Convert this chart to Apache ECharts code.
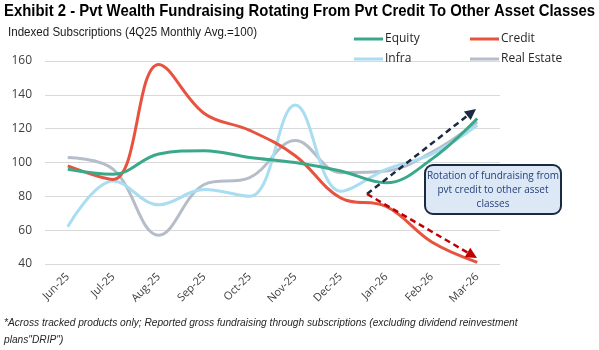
<!DOCTYPE html>
<html>
<head>
<meta charset="utf-8">
<script src="https://cdn.jsdelivr.net/npm/echarts@6/dist/echarts.min.js"></script>
<style>
  * { margin: 0; padding: 0; }
  html, body { background: #fff; }
  #main { width: 599px; height: 350px; }
</style>
</head>
<body>
<div id="main"></div>
<script>
// 月份
var months = ['Jun-25', 'Jul-25', 'Aug-25', 'Sep-25', 'Oct-25', 'Nov-25', 'Dec-25', 'Jan-26', 'Feb-26', 'Mar-26'];
// 各资产类别指数 (4Q25 月均 = 100)
var equity     = [96, 93, 105, 107, 103, 100, 95, 88, 102, 126];
var credit     = [98, 90, 158, 129, 119, 104, 79, 74, 53, 41];
var infra      = [62, 89, 75, 84, 80, 134, 83, 96, 105, 122];
var realEstate = [103, 96, 57, 87, 91, 113, 94, 95, 106, 124];
var yTicks = { min: 40, max: 160, interval: 20 };

var colors = {
  equity: '#3AA98A',
  credit: '#E8533F',
  infra: '#A8DDF2',
  realEstate: '#B5BDCB'
};

var tickFont = '"Open Sans", "Noto Sans", sans-serif';
var titleText = 'Exhibit 2 - Pvt Wealth Fundraising Rotating From Pvt Credit To Other Asset Classes';
var titleFont = 'bold 17px "Liberation Sans", Arial, sans-serif';
var subText = 'Indexed Subscriptions (4Q25 Monthly Avg.=100)';
var subFont = '13px "Liberation Sans", Arial, sans-serif';

// 标题字体较窄，量一下宽度再横向压缩
var ctx = document.createElement('canvas').getContext('2d');
ctx.font = titleFont;
var titleScale = 591 / ctx.measureText(titleText).width;
ctx.font = subFont;
var subScale = 249 / ctx.measureText(subText).width;

// 箭头：虚线 + 三角形头
function arrow(x1, y1, x2, y2, color) {
  var dx = x2 - x1, dy = y2 - y1;
  var len = Math.sqrt(dx * dx + dy * dy);
  var ux = dx / len, uy = dy / len;
  var headLen = 11, headW = 5.5;
  var bx = x2 - ux * headLen, by = y2 - uy * headLen;
  return [
    {
      type: 'line',
      shape: { x1: x1, y1: y1, x2: bx, y2: by },
      style: { stroke: color, lineWidth: 2.5, lineDash: [6, 4] },
      z: 100
    },
    {
      type: 'polygon',
      shape: { points: [[x2, y2], [bx - uy * headW, by + ux * headW], [bx + uy * headW, by - ux * headW]] },
      style: { fill: color },
      z: 100
    }
  ];
}

function legendAt(name, left, top) {
  return {
    data: [name],
    left: left,
    top: top,
    padding: 0,
    icon: 'rect',
    itemWidth: 29,
    itemHeight: 3,
    itemGap: 0,
    textStyle: { fontFamily: tickFont, fontSize: 12, color: '#262626', padding: [0, 0, 0, -3] }
  };
}

var myChart = echarts.init(document.getElementById('main'), null, { renderer: 'canvas' });

myChart.setOption({
  animation: false,
  title: [
    {
      text: '*Across tracked products only; Reported gross fundraising through subscriptions (excluding dividend reinvestment\nplans"DRIP")',
      left: 4, top: 315, padding: 0,
      textStyle: { fontFamily: '"Liberation Sans", Arial, sans-serif', fontStyle: 'italic', fontWeight: 'normal', fontSize: 10.2, lineHeight: 17, color: '#262626' }
    }
  ],
  legend: [
    legendAt('Equity', 354, 33),
    legendAt('Credit', 470, 33),
    legendAt('Infra', 354, 53),
    legendAt('Real Estate', 470, 53)
  ],
  grid: { left: 45, right: 99, top: 61, bottom: 86 },
  xAxis: {
    type: 'category',
    data: months,
    boundaryGap: true,
    axisLine: { show: false },
    axisTick: { show: false },
    axisLabel: { rotate: 45, margin: 11, fontFamily: tickFont, fontSize: 11, color: '#404040' }
  },
  yAxis: {
    type: 'value',
    min: yTicks.min,
    max: yTicks.max,
    interval: yTicks.interval,
    axisLine: { show: false },
    axisTick: { show: false },
    axisLabel: { margin: 13, fontFamily: tickFont, fontSize: 12, color: '#404040' },
    splitLine: { lineStyle: { color: '#D9D9D9', width: 1 } }
  },
  series: [
    { name: 'Equity', type: 'line', data: equity, smooth: 0.38, symbol: 'none', lineStyle: { width: 3, color: colors.equity }, itemStyle: { color: colors.equity }, z: 4 },
    { name: 'Credit', type: 'line', data: credit, smooth: 0.38, symbol: 'none', lineStyle: { width: 3, color: colors.credit }, itemStyle: { color: colors.credit }, z: 3 },
    { name: 'Infra', type: 'line', data: infra, smooth: 0.38, symbol: 'none', lineStyle: { width: 3, color: colors.infra }, itemStyle: { color: colors.infra }, z: 2 },
    { name: 'Real Estate', type: 'line', data: realEstate, smooth: 0.38, symbol: 'none', lineStyle: { width: 3, color: colors.realEstate }, itemStyle: { color: colors.realEstate }, z: 1 }
  ],
  graphic: [].concat(
    [
      {
        type: 'text',
        x: 4, y: 3,
        scaleX: titleScale,
        style: { text: titleText, font: titleFont, fill: '#000' }
      },
      {
        type: 'text',
        x: 8, y: 26,
        scaleX: subScale,
        style: { text: subText, font: subFont, fill: '#1a1a1a' }
      }
    ],
    arrow(367, 194, 476, 109, '#1B2A41'),
    arrow(367, 194, 477, 258, '#C00000'),
    [
      {
        type: 'rect',
        shape: { x: 425, y: 165, width: 136, height: 49, r: 8 },
        style: { fill: '#DCE8F6', stroke: '#1B2A41', lineWidth: 2 },
        z: 110
      },
      {
        type: 'text',
        x: 493, y: 190,
        style: {
          text: 'Rotation of fundraising from\npvt credit to other asset\nclasses',
          fill: '#27407A',
          font: '10px "Open Sans", "Noto Sans", sans-serif',
          lineHeight: 14,
          align: 'center',
          verticalAlign: 'middle'
        },
        z: 111
      }
    ]
  )
});
</script>
</body>
</html>
